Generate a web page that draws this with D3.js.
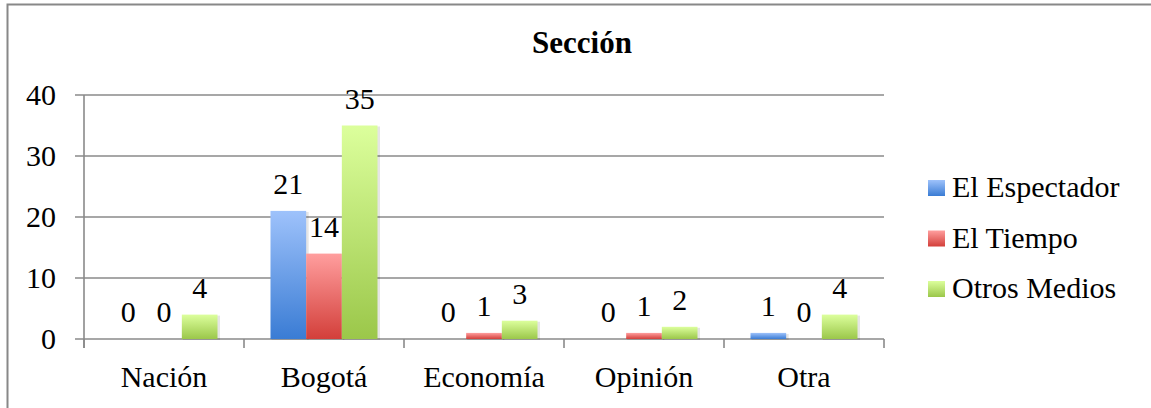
<!DOCTYPE html>
<html><head><meta charset="utf-8">
<script src="https://cdn.jsdelivr.net/npm/d3@7"></script>
</head>
<body style="margin:0"><svg id="c" width="1151" height="408"></svg>
<script>
const title = "Sección";
const categories = ["Nación","Bogotá","Economía","Opinión","Otra"];
const seriesNames = ["El Espectador","El Tiempo","Otros Medios"];
const elEspectador = [0,21,0,0,1];
const elTiempo = [0,14,1,1,0];
const otrosMedios = [4,35,3,2,4];
const yTicks = [0,10,20,30,40];
const seriesValues = [elEspectador, elTiempo, otrosMedios];
const colors = [["#9ec2fb","#3a7cd4"],["#ff9e9e","#d33f3a"],["#dcff9c","#9bc74a"]];

const svg = d3.select("#c");
const defs = svg.append("defs");
colors.forEach((c,i)=>{
  const g = defs.append("linearGradient").attr("id","g"+i).attr("x1",0).attr("y1",0).attr("x2",0).attr("y2",1);
  g.append("stop").attr("offset","0%").attr("stop-color",c[0]);
  g.append("stop").attr("offset","100%").attr("stop-color",c[1]);
});

svg.append("rect").attr("x",7.5).attr("y",4.5).attr("width",1200).attr("height",500)
  .attr("fill","none").attr("stroke","#888").attr("stroke-width",2);

const x0 = d3.scaleBand().domain(categories).range([84,884]).padding(0);
const x1 = d3.scaleBand().domain(seriesNames).range([26.5, x0.bandwidth()-26.5]).padding(0);
const y = d3.scaleLinear().domain([0,40]).range([339,95]);

svg.append("g").selectAll("line").data(yTicks).join("line")
  .attr("x1",75).attr("x2",884).attr("y1",d=>y(d)).attr("y2",d=>y(d))
  .attr("stroke","#8a8a8a").attr("stroke-width",1.6);
svg.append("line").attr("x1",84).attr("x2",84).attr("y1",y(40)).attr("y2",348).attr("stroke","#8a8a8a").attr("stroke-width",1.6);
const bounds = categories.map(c=>x0(c)).concat([x0(categories[categories.length-1])+x0.bandwidth()]);
svg.append("g").selectAll("line").data(bounds).join("line")
  .attr("x1",d=>d).attr("x2",d=>d).attr("y1",339).attr("y2",348)
  .attr("stroke","#8a8a8a").attr("stroke-width",1.6);

seriesNames.forEach((s,si)=>{
  const rows = categories.map((c,ci)=>({c,v:seriesValues[si][ci]}));
  const bars = rows.filter(d=>d.v>0);
  svg.append("g").selectAll("rect").data(bars).join("rect")
    .attr("x",d=>x0(d.c)+x1(s)+1).attr("width",x1.bandwidth()+1.5)
    .attr("y",d=>y(d.v)+1).attr("height",d=>y(0)-y(d.v))
    .attr("fill","#000").attr("opacity",0.1);
  svg.append("g").selectAll("rect").data(bars).join("rect")
    .attr("x",d=>x0(d.c)+x1(s)).attr("width",x1.bandwidth())
    .attr("y",d=>y(d.v)).attr("height",d=>y(0)-y(d.v))
    .attr("fill","url(#g"+si+")");
});

seriesNames.forEach((s,si)=>{
  const rows = categories.map((c,ci)=>({c,v:seriesValues[si][ci]}));
  rows.forEach(d=>{
    svg.append("text").attr("font-family","Liberation Serif").attr("font-size",30)
      .attr("x",x0(d.c)+x1(s)+x1.bandwidth()/2).attr("y",y(d.v)-17)
      .attr("text-anchor","middle").text(d.v);
  });
});

yTicks.forEach(d=>{
  svg.append("text").attr("font-family","Liberation Serif").attr("font-size",30)
    .attr("x",56).attr("y",y(d)+10).attr("text-anchor","end").text(d);
});

categories.forEach(d=>{
  svg.append("text").attr("font-family","Liberation Serif").attr("font-size",30)
    .attr("x",x0(d)+x0.bandwidth()/2).attr("y",387).attr("text-anchor","middle").text(d);
});

svg.append("text").attr("font-family","Liberation Serif").attr("font-size",31).attr("font-weight","bold")
  .attr("x",582).attr("y",53).attr("text-anchor","middle").text(title);

seriesNames.forEach((s,i)=>{
  const by = 197 + i*50.5;
  svg.append("rect").attr("x",928).attr("y",by-17).attr("width",17).attr("height",16).attr("fill","url(#g"+i+")");
  svg.append("text").attr("font-family","Liberation Serif").attr("font-size",30)
    .attr("x",952).attr("y",by).text(s);
});
</script></body></html>
